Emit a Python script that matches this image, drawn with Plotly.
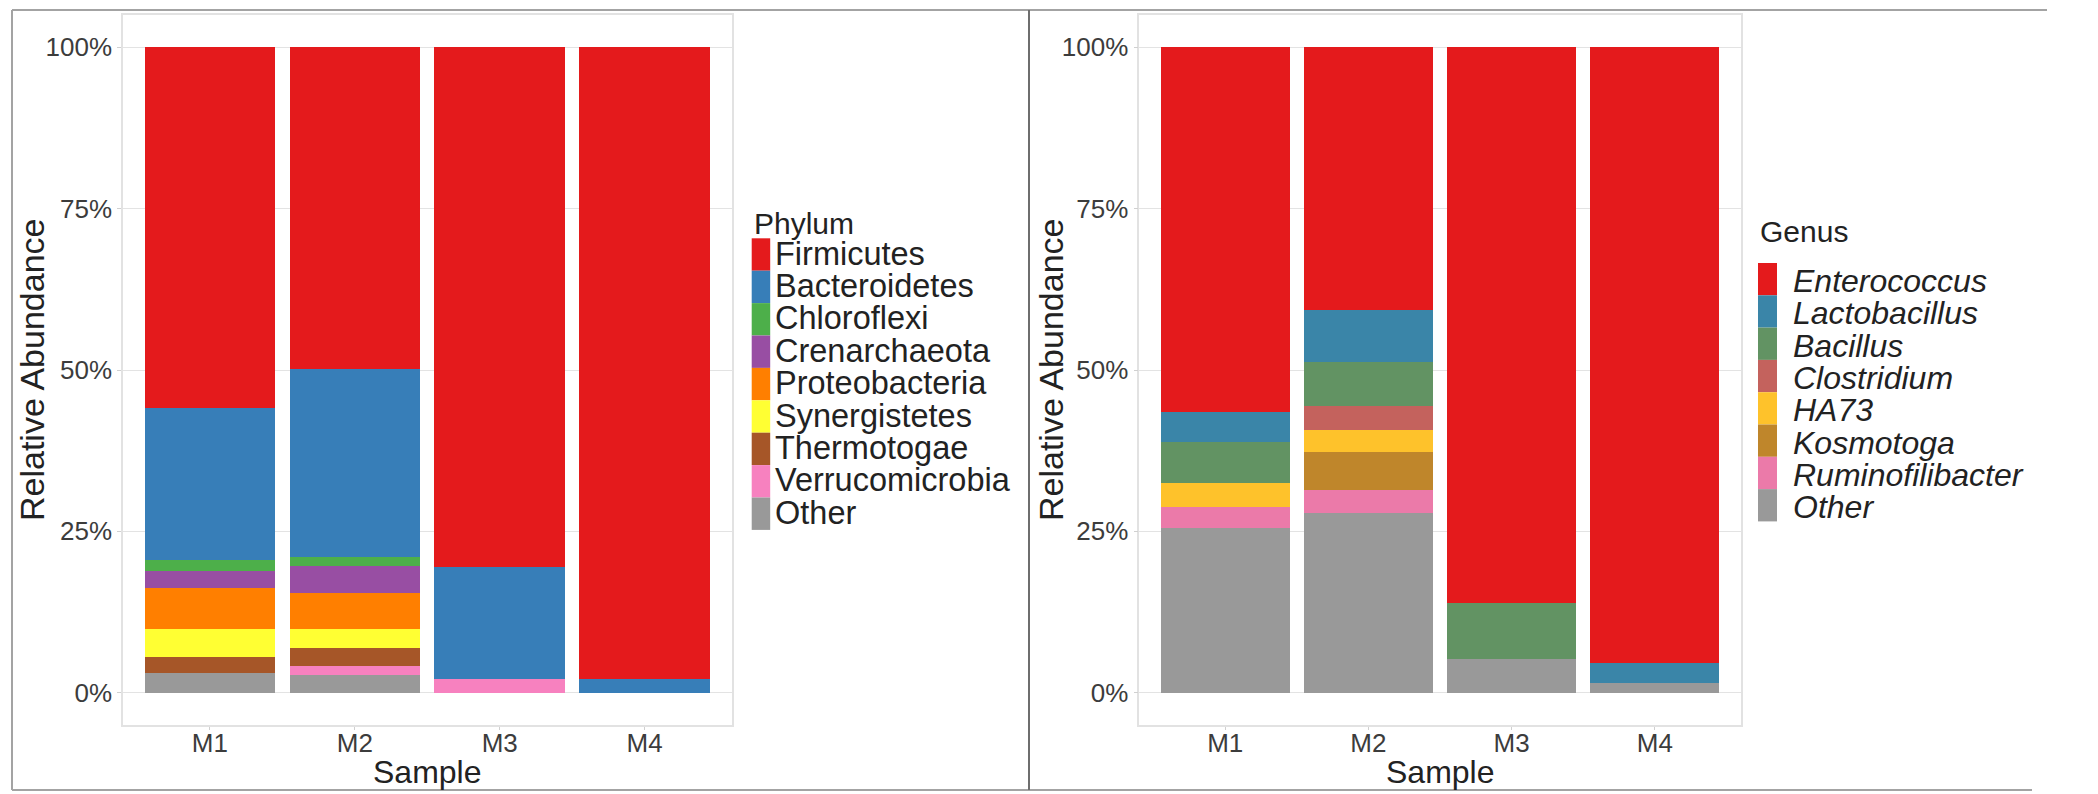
import plotly.graph_objects as go

W, H = 2098, 794

samples = ["M1", "M2", "M3", "M4"]

# ---- Phylum panel (values in % of reads) ----
phyla = ["Firmicutes", "Bacteroidetes", "Chloroflexi", "Crenarchaeota", "Proteobacteria",
         "Synergistetes", "Thermotogae", "Verrucomicrobia", "Other"]
phylum_colors = ["#E41A1C", "#377EB8", "#4DAF4A", "#984EA3", "#FF7F00",
                 "#FFFF33", "#A65628", "#F781BF", "#999999"]
firmicutes = [55.9, 49.8, 80.5, 97.8]
bacteroidetes = [23.6, 29.2, 17.3, 2.2]
chloroflexi = [1.7, 1.3, 0.0, 0.0]
crenarchaeota = [2.5, 4.2, 0.0, 0.0]
proteobacteria = [6.5, 5.7, 0.0, 0.0]
synergistetes = [4.2, 2.9, 0.0, 0.0]
thermotogae = [2.5, 2.8, 0.0, 0.0]
verrucomicrobia = [0.0, 1.4, 2.2, 0.0]
phylum_other = [3.1, 2.7, 0.0, 0.0]
phylum_values = [firmicutes, bacteroidetes, chloroflexi, crenarchaeota, proteobacteria,
                 synergistetes, thermotogae, verrucomicrobia, phylum_other]

# ---- Genus panel ----
genera = ["Enterococcus", "Lactobacillus", "Bacillus", "Clostridium", "HA73",
          "Kosmotoga", "Ruminofilibacter", "Other"]
genus_colors = ["#E41A1C", "#3A85A8", "#629363", "#C4625D", "#FEC22B",
                "#BF862B", "#EB7AA9", "#999999"]
enterococcus = [56.5, 40.7, 86.1, 95.35]
lactobacillus = [4.6, 8.0, 0.0, 3.2]
bacillus = [6.4, 6.9, 8.7, 0.0]
clostridium = [0.0, 3.7, 0.0, 0.0]
ha73 = [3.8, 3.4, 0.0, 0.0]
kosmotoga = [0.0, 5.9, 0.0, 0.0]
ruminofilibacter = [3.2, 3.5, 0.0, 0.0]
genus_other = [25.5, 27.9, 5.2, 1.45]
genus_values = [enterococcus, lactobacillus, bacillus, clostridium, ha73,
                kosmotoga, ruminofilibacter, genus_other]

y_ticks = [0, 25, 50, 75, 100]
y_ticklabels = ["0%", "25%", "50%", "75%", "100%"]

FONT = "Liberation Sans, Arial, sans-serif"


def px(x):
    return x / W


def py(y):
    return 1 - y / H


fig = go.Figure()

# stacked bars (first trace at the bottom -> add in reverse legend order)
for name, col, vals in reversed(list(zip(phyla, phylum_colors, phylum_values))):
    fig.add_trace(go.Bar(x=samples, y=vals, name=name, marker=dict(color=col, line=dict(width=0)),
                         width=0.9, xaxis="x", yaxis="y", showlegend=False))
for name, col, vals in reversed(list(zip(genera, genus_colors, genus_values))):
    fig.add_trace(go.Bar(x=samples, y=vals, name=name, marker=dict(color=col, line=dict(width=0)),
                         width=0.9, xaxis="x2", yaxis="y2", showlegend=False))

ydom = [py(725), py(15)]
TICKCOL = "#3c3c3c"
xcommon = dict(type="category", range=[-0.6, 3.6], showline=True, mirror=True,
               linecolor="#e2e2e2", linewidth=1.5, showgrid=False, ticks="outside",
               ticklen=3, tickcolor="#d0d0d0", ticklabelstandoff=-9,
               tickfont=dict(size=26, color=TICKCOL, family=FONT))
ycommon = dict(range=[-5, 105], tickmode="array", tickvals=y_ticks, ticktext=y_ticklabels,
               showline=True, mirror=True,
               linecolor="#e2e2e2", linewidth=1.5, showgrid=True, gridcolor="#e3e3e3",
               gridwidth=1, zeroline=False, ticks="outside", ticklen=4, tickcolor="#d0d0d0",
               tickfont=dict(size=26, color=TICKCOL, family=FONT), domain=ydom)

fig.update_layout(
    width=W, height=H, margin=dict(l=0, r=0, t=0, b=0),
    paper_bgcolor="white", plot_bgcolor="white", barmode="stack",
    font=dict(family=FONT, color="#222222"),
    xaxis=dict(domain=[px(123), px(731.5)], anchor="y", **xcommon),
    yaxis=dict(anchor="x", **ycommon),
    xaxis2=dict(domain=[px(1139.3), px(1740.7)], anchor="y2", **xcommon),
    yaxis2=dict(anchor="x2", **ycommon),
)

annotations = []
shapes = []

# axis titles
for cx in (427, 1440):
    annotations.append(dict(text="Sample", x=px(cx), y=py(772), xref="paper", yref="paper",
                            xanchor="center", yanchor="middle", showarrow=False,
                            font=dict(size=32, color="#222222", family=FONT)))
for cx in (32, 1051):
    annotations.append(dict(text="Relative Abundance", x=px(cx), y=py(370), xref="paper",
                            yref="paper", xanchor="center", yanchor="middle", showarrow=False,
                            textangle=-90, font=dict(size=34, color="#222222", family=FONT)))


def add_legend(title, names, colors, x_sw, sw_w, x_txt, title_y, top, row_h, italic, fsize, dy):
    annotations.append(dict(text=title, x=px(x_sw), y=py(title_y), xref="paper", yref="paper",
                            xanchor="left", yanchor="middle", showarrow=False,
                            font=dict(size=30, color="#222222", family=FONT)))
    for i, (n, c) in enumerate(zip(names, colors)):
        y0 = top + i * row_h
        shapes.append(dict(type="rect", xref="paper", yref="paper", x0=px(x_sw), x1=px(x_sw + sw_w),
                           y0=py(y0 + row_h), y1=py(y0), fillcolor=c, line=dict(width=0)))
        txt = "<i>%s</i>" % n if italic else n
        annotations.append(dict(text=txt, x=px(x_txt), y=py(y0 + row_h / 2 + dy), xref="paper",
                                yref="paper", xanchor="left", yanchor="middle", showarrow=False,
                                font=dict(size=fsize, color="#222222", family=FONT)))


add_legend("Phylum", phyla, phylum_colors, 751.7, 18.5, 773, 224, 238.3, 32.4, False, 32.5, -1)
add_legend("Genus", genera, genus_colors, 1758, 19, 1791, 231, 263, 32.3, True, 32, 2)

# outer frame and separator
frame = "#a3a3a3"
shapes += [
    dict(type="line", xref="paper", yref="paper", x0=px(12), x1=px(2047), y0=py(10), y1=py(10),
         line=dict(color=frame, width=2)),
    dict(type="line", xref="paper", yref="paper", x0=px(12), x1=px(2032), y0=py(790), y1=py(790),
         line=dict(color=frame, width=2)),
    dict(type="line", xref="paper", yref="paper", x0=px(12), x1=px(12), y0=py(10), y1=py(790),
         line=dict(color=frame, width=2)),
    dict(type="line", xref="paper", yref="paper", x0=px(1029), x1=px(1029), y0=py(10), y1=py(790),
         line=dict(color="#6e6e6e", width=2)),
]

fig.update_layout(annotations=annotations, shapes=shapes)
fig.write_html("out.html")
